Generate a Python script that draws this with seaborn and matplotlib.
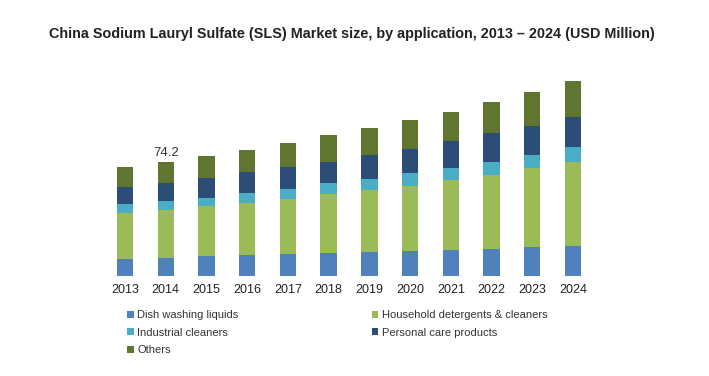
import matplotlib
matplotlib.use("Agg")
import matplotlib.pyplot as plt
import seaborn as sns
import numpy as np
import pandas as pd
from matplotlib.patches import Patch

years = ["2013", "2014", "2015", "2016", "2017", "2018", "2019", "2020", "2021", "2022", "2023", "2024"]
dish_washing = [11.2, 11.9, 12.8, 13.4, 14.3, 14.7, 15.6, 16.4, 16.9, 17.5, 19.0, 19.7]
household = [29.7, 31.2, 32.6, 34.1, 35.7, 38.3, 40.2, 42.2, 45.4, 48.0, 50.9, 54.5]
industrial = [5.8, 5.6, 5.4, 6.1, 6.5, 7.1, 7.1, 8.0, 7.6, 8.6, 8.4, 9.3]
personal_care = [11.2, 11.9, 13.0, 13.6, 14.3, 14.0, 15.4, 16.0, 17.9, 18.4, 19.2, 19.9]
others = [12.6, 13.6, 14.1, 14.5, 15.4, 17.1, 17.9, 18.4, 18.8, 20.5, 21.9, 23.2]

series_names = ["Dish washing liquids", "Household detergents & cleaners",
                "Industrial cleaners", "Personal care products", "Others"]
series_vals = [dish_washing, household, industrial, personal_care, others]
colors = ["#4F81BD", "#9BBB59", "#4BACC6", "#2C4D75", "#5F7530"]

sns.set_theme(style="white")
plt.rcParams['font.family'] = ['Liberation Sans', 'DejaVu Sans']

fig = plt.figure(figsize=(7.09, 3.76), dpi=100)
ax = fig.add_axes([104.6 / 709, 1 - 276 / 376, (593.4 - 104.6) / 709, (276 - 69.5) / 376])

cum = np.cumsum(np.array(series_vals), axis=0)
df = pd.DataFrame({"year": years})
for i in range(len(series_names) - 1, -1, -1):
    df["v"] = cum[i]
    sns.barplot(data=df, x="year", y="v", color=colors[i], width=0.4,
                saturation=1, ax=ax, linewidth=0, edgecolor="none")

totals = cum[-1]
ax.text(1, totals[1] + 2.0, f"{totals[1]:.1f}", ha="center", va="bottom",
        fontsize=9.5, color="#333333")

ax.set_xlim(-0.5, 11.5)
ax.set_ylim(0, 134)
ax.set_xlabel("")
ax.set_ylabel("")
ax.set_yticks([])
for s in ax.spines.values():
    s.set_visible(False)
ax.tick_params(axis="x", length=0, pad=6, labelsize=9, labelcolor="#222222")

fig.text(0.497, 1 - 34 / 376, "China Sodium Lauryl Sulfate (SLS) Market size, by application, 2013 – 2024 (USD Million)",
         ha="center", va="center", fontsize=10.4, fontweight="bold", color="#222222")

handles = [Patch(facecolor=c, edgecolor="none") for c in colors]
order = [0, 2, 4, 1, 3]
leg = fig.legend([handles[i] for i in order], [series_names[i] for i in order],
                 ncol=2, loc="upper left", bbox_to_anchor=(127 / 709, 1 - 310 / 376),
                 frameon=False, fontsize=8, handlelength=0.6, handleheight=0.6,
                 handletextpad=0.3, columnspacing=12.0, labelspacing=0.68,
                 borderaxespad=0, borderpad=0)
for t in leg.get_texts():
    t.set_color("#333333")

fig.savefig("out.png", dpi=100)
